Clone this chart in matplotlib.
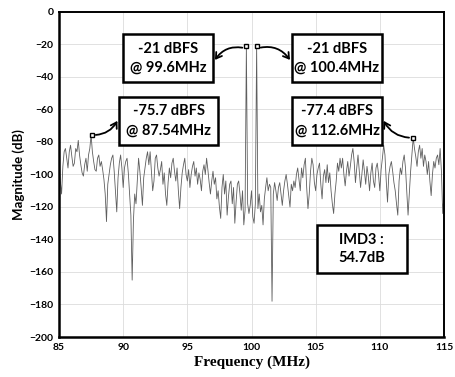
import numpy as np
import matplotlib
matplotlib.use("Agg")
import matplotlib.pyplot as plt
from matplotlib.patches import Rectangle

# ---- data ----
freq_start = 85.0
freq_step = 0.1
magnitude_db = [
    # 85.0 - 85.9
    -88, -104, -112, -95, -86, -84, -90, -96, -86, -82,
    # 86.0 - 86.9
    -89, -95, -93, -84, -86, -79, -88, -94, -99, -101,
    # 87.0 - 87.9
    -94, -90, -98, -88, -84, -75.7, -86, -92, -97, -98,
    # 88.0 - 88.9
    -90, -88, -95, -92, -97, -103, -112, -129, -106, -100,
    # 89.0 - 89.9
    -94, -90, -88, -98, -110, -123, -102, -93, -88, -96,
    # 90.0 - 90.9
    -108, -96, -92, -90, -99, -112, -125, -165, -128, -112,
    # 91.0 - 91.9
    -118, -104, -90, -98, -108, -119, -102, -96, -90, -86,
    # 92.0 - 92.9
    -94, -86, -98, -110, -104, -90, -88, -96, -101, -97,
    # 93.0 - 93.9
    -92, -106, -99, -112, -119, -105, -96, -102, -93, -90,
    # 94.0 - 94.9
    -98, -104, -96, -110, -121, -108, -99, -94, -90, -100,
    # 95.0 - 95.9
    -104, -97, -108, -100, -95, -92, -101, -96, -106, -99,
    # 96.0 - 96.9
    -103, -110, -98, -94, -100, -90, -97, -105, -112, -104,
    # 97.0 - 97.9
    -98, -106, -102, -115, -110, -120, -127, -108, -100, -112,
    # 98.0 - 98.9
    -104, -125, -114, -106, -104, -118, -108, -130, -117, -106,
    # 99.0 - 99.9
    -104, -112, -122, -110, -131, -122, -21, -118, -124, -119,
    # 100.0 - 100.9
    -110, -126, -130, -118, -21, -121, -112, -123, -119, -131,
    # 101.0 - 101.9
    -115, -108, -102, -110, -106, -108, -178, -112, -105, -110,
    # 102.0 - 102.9
    -116, -108, -105, -112, -119, -110, -104, -100, -106, -113,
    # 103.0 - 103.9
    -120, -106, -110, -104, -108, -100, -96, -103, -110, -96,
    # 104.0 - 104.9
    -102, -94, -90, -108, -121, -112, -98, -90, -94, -105,
    # 105.0 - 105.9
    -110, -100, -96, -93, -106, -115, -101, -97, -105, -94,
    # 106.0 - 106.9
    -105, -99, -110, -118, -124, -112, -104, -93, -98, -90,
    # 107.0 - 107.9
    -96, -90, -100, -107, -98, -92, -101, -95, -88, -84,
    # 108.0 - 108.9
    -92, -105, -96, -88, -98, -108, -100, -91, -98, -106,
    # 109.0 - 109.9
    -95, -101, -110, -99, -93, -104, -108, -96, -93, -100,
    # 110.0 - 110.9
    -110, -97, -90, -82, -88, -104, -117, -100, -95, -92,
    # 111.0 - 111.9
    -98, -105, -110, -118, -125, -104, -96, -100, -92, -88,
    # 112.0 - 112.9
    -96, -110, -125, -112, -98, -88, -77.4, -84, -89, -95,
    # 113.0 - 113.9
    -86, -82, -90, -84, -95, -88, -92, -100, -92, -104,
    # 114.0 - 114.9
    -113, -100, -92, -96, -90, -88, -94, -84, -98, -124,
    # 115.0
    -112,
]
freqs = freq_start + freq_step * np.arange(len(magnitude_db))

# annotated points
marker_freqs = [99.6, 100.4, 87.54, 112.6]
marker_levels = [-21, -21, -75.7, -77.4]
box_texts = ["-21 dBFS\n@ 99.6MHz", "-21 dBFS\n@ 100.4MHz",
             "-75.7 dBFS\n@ 87.54MHz", "-77.4 dBFS\n@ 112.6MHz",
             "IMD3 :\n54.7dB"]

x_ticks = [85, 90, 95, 100, 105, 110, 115]
y_ticks = [0, -20, -40, -60, -80, -100, -120, -140, -160, -180, -200]

# ---- figure ----
fig = plt.figure(figsize=(4.55, 3.77), dpi=100)
ax = fig.add_axes([0.1297, 0.1061, 0.8461, 0.8621])

ax.plot(freqs, magnitude_db, color="#5e5e5e", lw=0.6)

ax.set_xlim(85, 115)
ax.set_ylim(-200, 0)
ax.set_xticks(x_ticks)
ax.set_yticks(y_ticks)
ax.grid(True, color="#dcdcdc", lw=0.6)
ax.set_axisbelow(True)
ax.tick_params(length=0, pad=4)
for lab in ax.get_xticklabels() + ax.get_yticklabels():
    lab.set_fontfamily("Lato")
    lab.set_fontweight("bold")
    lab.set_fontsize(7.5)
for sp in ax.spines.values():
    sp.set_linewidth(1.4)
    sp.set_color("black")
ax.spines["left"].set_linewidth(1.8)
ax.spines["bottom"].set_linewidth(1.8)

ax.set_ylabel("Magnitude (dB)", fontfamily="Lato", fontweight="bold",
              fontsize=9.5, labelpad=3)
ax.set_xlabel("Frequency (MHz)", fontfamily="Liberation Serif",
              fontweight="bold", fontsize=11, labelpad=3)

# markers
ax.plot(marker_freqs, marker_levels, ls="none", marker="s", ms=3.5,
        mfc="white", mec="black", mew=1.0, zorder=6)

# text boxes: (x0, x1, y_bottom, y_top) in data coords
box_extents = [(90.0, 97.0, -43.1, -13.5),
               (103.16, 110.17, -43.1, -13.5),
               (89.68, 97.39, -81.8, -52.3),
               (103.16, 110.17, -81.8, -52.3),
               (105.1, 112.1, -160.6, -131.1)]
for (x0, x1, y0, y1), t in zip(box_extents, box_texts):
    ax.add_patch(Rectangle((x0, y0), x1 - x0, y1 - y0, fc="white",
                           ec="black", lw=1.8, zorder=4))
    ax.text((x0 + x1) / 2, (y0 + y1) / 2, t, fontfamily="Lato",
            fontweight="bold", fontsize=10.5, ha="center", va="center",
            linespacing=1.45, zorder=5)

# curved arrows from markers to boxes
arrow_kw = dict(arrowstyle="->,head_length=0.4,head_width=0.25",
                color="black", lw=1.3, shrinkA=3, shrinkB=0)
ax.annotate("", xy=(97.15, -29.5), xytext=(99.6, -22.5),
            arrowprops=dict(connectionstyle="arc3,rad=0.35", **arrow_kw))
ax.annotate("", xy=(103.0, -29.5), xytext=(100.4, -22.5),
            arrowprops=dict(connectionstyle="arc3,rad=-0.35", **arrow_kw))
ax.annotate("", xy=(89.55, -67.0), xytext=(87.54, -75.7),
            arrowprops=dict(connectionstyle="arc3,rad=0.3", **arrow_kw))
ax.annotate("", xy=(110.3, -67.0), xytext=(112.6, -77.4),
            arrowprops=dict(connectionstyle="arc3,rad=-0.3", **arrow_kw))

fig.savefig("out.png", dpi=100)
